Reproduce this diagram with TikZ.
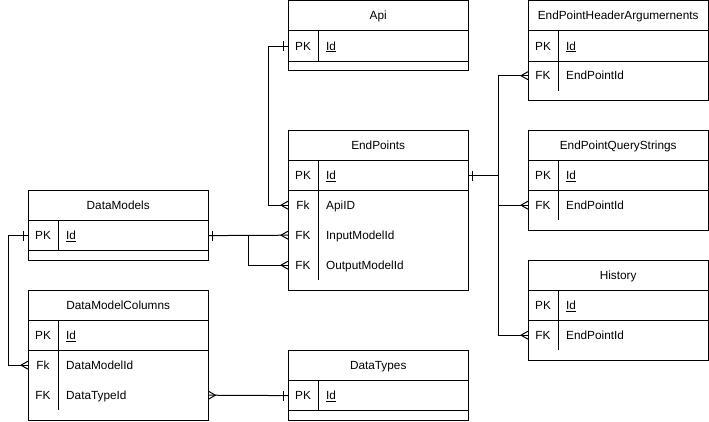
\documentclass[tikz,border=0pt]{standalone}
\usepackage{fontspec}
\setmainfont{Liberation Sans}
\usetikzlibrary{calc}
\newcommand{\tfont}{\fontsize{11.8pt}{13pt}\selectfont}
\tikzset{
  tline/.style={line width=1pt, draw=black},
  tblframe/.style={draw=black, line width=1pt, minimum width=180pt, inner sep=0pt, rectangle},
  titlerow/.style={minimum width=180pt, minimum height=30pt, inner sep=0pt, font=\tfont, text height=9.5pt, text depth=1.5pt},
  row/.style={minimum width=180pt, minimum height=30pt, inner sep=0pt},
  keytxt/.style={font=\tfont, inner sep=0pt, text height=9.5pt, text depth=1.5pt},
}
\newcommand{\ertab}[5]{%
  \node[tblframe, minimum height=#4pt, anchor=north west] (#1) at (#2,#3) {};
  \node[titlerow, anchor=north west] (#1-t) at (#2,#3) {#5};
  \node[row, anchor=north west] (#1-pk) at (#1-t.south west) {};
  \draw[tline] (#1-t.south west) -- (#1-t.south east);
  \draw[tline] (#1-pk.south west) -- (#1-pk.south east);
  \draw[tline] ([xshift=30pt]#1-pk.north west) -- ([xshift=30pt]#1-pk.south west);
  \node[keytxt] (#1-pkk) at ([xshift=15pt]#1-pk.west) {PK};
  \node[keytxt, anchor=west] (#1-pkn) at ([xshift=38pt]#1-pk.west) {\underline{Id}};
}
\newcommand{\errow}[5]{%
  \node[row, anchor=north west] (#2) at ([yshift=-#3pt]#1.north west) {};
  \draw[tline] ([xshift=30pt]#2.north west) -- ([xshift=30pt]#2.south west);
  \node[keytxt] (#2-k) at ([xshift=15pt]#2.west) {#4};
  \node[keytxt, anchor=west] (#2-n) at ([xshift=38pt]#2.west) {#5};
}
% crow's foot at a west edge (apex to the left) / east edge (apex to the right)
\newcommand{\crowW}[1]{\draw[tline] ($(#1)+(0,-4)$) -- ($(#1)+(-7,0)$) -- ($(#1)+(0,4)$);}
\newcommand{\crowE}[1]{\draw[tline] ($(#1)+(0,-4)$) -- ($(#1)+(7,0)$) -- ($(#1)+(0,4)$);}
\newcommand{\barW}[1]{\draw[tline] ($(#1)+(-5,-5)$) -- ($(#1)+(-5,5)$);}
\newcommand{\barE}[1]{\draw[tline] ($(#1)+(4,-5)$) -- ($(#1)+(4,5)$);}
\begin{document}
\begin{tikzpicture}[x=1pt,y=-1pt]
\useasboundingbox (0,0) rectangle (709,422);
% tables
\ertab{api}{288}{0.5}{70}{Api}
\ertab{ep}{288}{130}{160}{EndPoints}
\errow{ep}{ep-fk1}{60}{Fk}{ApiID}
\errow{ep}{ep-fk2}{90}{FK}{InputModelId}
\errow{ep}{ep-fk3}{120}{FK}{OutputModelId}
\ertab{dm}{28}{190}{70}{DataModels}
\ertab{dmc}{28}{290}{130}{DataModelColumns}
\errow{dmc}{dmc-fk1}{60}{Fk}{DataModelId}
\errow{dmc}{dmc-fk2}{90}{FK}{DataTypeId}
\ertab{dt}{288}{350}{70}{DataTypes}
\ertab{eh}{528}{0.5}{100}{EndPointHeaderArgumernents}
\errow{eh}{eh-fk1}{60}{FK}{EndPointId}
\ertab{eq}{528}{130}{100}{EndPointQueryStrings}
\errow{eq}{eq-fk1}{60}{FK}{EndPointId}
\ertab{hi}{528}{260}{100}{History}
\errow{hi}{hi-fk1}{60}{FK}{EndPointId}
% connectors
\coordinate (c1) at ([xshift=-20pt]api-pk.west);
\draw[tline] (api-pk.west) -- (c1) |- (ep-fk1.west);
\barW{api-pk.west}
\crowW{ep-fk1.west}
\draw[tline] (dm-pk.east) -- (ep-fk2.west);
\coordinate (c2) at ($(dm-pk.east)!0.5!(ep-fk2.west)$);
\draw[tline] (c2) |- (ep-fk3.west);
\barE{dm-pk.east}
\crowW{ep-fk2.west}
\crowW{ep-fk3.west}
\coordinate (c3) at ([xshift=-20pt]dm-pk.west);
\draw[tline] (dm-pk.west) -- (c3) |- (dmc-fk1.west);
\barW{dm-pk.west}
\crowW{dmc-fk1.west}
\draw[tline] (dmc-fk2.east) -- (dt-pk.west);
\crowE{dmc-fk2.east}
\barW{dt-pk.west}
\coordinate (c5) at ([xshift=30pt]ep-pk.east);
\draw[tline] (ep-pk.east) -- (c5);
\draw[tline] (c5) |- (eh-fk1.west);
\draw[tline] (c5) |- (eq-fk1.west);
\draw[tline] (c5) |- (hi-fk1.west);
\barE{ep-pk.east}
\crowW{eh-fk1.west}
\crowW{eq-fk1.west}
\crowW{hi-fk1.west}
\end{tikzpicture}
\end{document}
